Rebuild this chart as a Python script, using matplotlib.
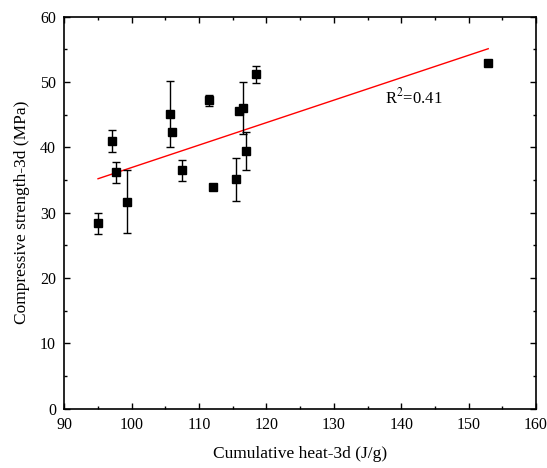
import numpy as np
import matplotlib
matplotlib.use("Agg")
import matplotlib.pyplot as plt
from matplotlib.ticker import MultipleLocator

plt.rcParams['font.family'] = ['Liberation Serif', 'DejaVu Serif']
plt.rcParams['mathtext.fontset'] = 'stix'

# Cumulative heat (J/g) vs compressive strength (MPa), 3 days
heat = [95.0, 97.1, 97.6, 99.3, 105.7, 106.0, 107.5, 111.5, 112.0,
        115.5, 115.9, 116.5, 116.9, 118.4, 152.9]
strength = [28.4, 41.0, 36.2, 31.7, 45.1, 42.4, 36.5, 47.2, 34.0,
            35.1, 45.5, 46.0, 39.4, 51.2, 52.9]
strength_err = [1.6, 1.7, 1.6, 4.8, 5.1, 0.0, 1.6, 0.8, 0.0,
                3.3, 0.0, 4.0, 2.9, 1.3, 0.0]

# linear fit line end points
fit_x = [95.0, 152.9]
fit_y = [35.2, 55.1]
r2_text = "R$^2$=0.41"

fig = plt.figure(figsize=(5.47, 4.68), dpi=100)
ax = fig.add_axes([0.1176, 0.1267, 0.8624, 0.8376])

ax.errorbar(heat, strength, yerr=strength_err, fmt='s', color='black',
            ecolor='black', elinewidth=1.0, capsize=3, capthick=1.0,
            markersize=6, zorder=3)
ax.plot(fit_x, fit_y, color='red', linewidth=1.0, zorder=2)
ax.text(137.6, 47.7, r2_text, fontsize=12, ha='left', va='center')

ax.set_xlim(90, 160)
ax.set_ylim(0, 60)
ax.xaxis.set_major_locator(MultipleLocator(10))
ax.xaxis.set_minor_locator(MultipleLocator(5))
ax.yaxis.set_major_locator(MultipleLocator(10))
ax.yaxis.set_minor_locator(MultipleLocator(5))
ax.tick_params(which='both', direction='in', top=True, right=True,
               labelsize=11.5, width=1.0)
ax.tick_params(which='major', length=4)
ax.tick_params(which='minor', length=2)
ax.tick_params(axis='x', which='major', pad=6)
ax.tick_params(axis='y', which='major', pad=6)
for s in ax.spines.values():
    s.set_linewidth(1.2)

ax.set_xlabel("Cumulative heat-3d (J/g)", fontsize=12.5, labelpad=9)
ax.set_ylabel("Compressive strength-3d (MPa)", fontsize=12.5, labelpad=7)

fig.savefig("out.png", dpi=100)
